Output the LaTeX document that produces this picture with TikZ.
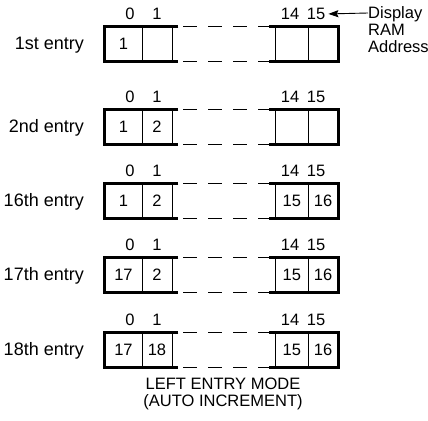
\documentclass[tikz,border=0pt]{standalone}
\usepackage{fontspec}
\setmainfont{Liberation Sans}
\usetikzlibrary{arrows.meta, positioning}
\tikzset{
  txt/.style={font=\fontsize{16.5}{17}\selectfont, inner sep=0pt, text height=11.5pt, text depth=0pt},
  cell/.style={txt, draw, line width=0.9pt, minimum height=34pt},
  lbl/.style={txt, font=\fontsize{18}{17}\selectfont, anchor=east},
  rim/.style={line width=2.2pt},
  gap/.style={line width=0.9pt, dash pattern=on 14pt off 11pt, dash phase=20pt},
  arr/.style={-{Stealth[length=10pt, width=7pt, inset=1.5pt]}, line width=0.9pt},
}
\begin{document}
\begin{tikzpicture}[x=1pt, y=-1pt]
    \useasboundingbox (0,0) rectangle (428,420);
    \foreach \r/\lab/\t/\a/\b/\c/\d in {1/1st entry/27/1/{}/{}/{}, 2/2nd entry/110/1/2/{}/{},
        3/16th entry/184/1/2/15/16, 4/17th entry/258/17/2/15/16, 5/18th entry/333/17/18/15/16} {
      \node[cell, minimum width=37pt] (a\r) at (123.5,\t+17) {\a};
      \node[cell, minimum width=30pt] (b\r) at (157,\t+17) {\b};
      \node[cell, minimum width=32.5pt] (c\r) at (291.75,\t+17) {\c};
      \node[cell, minimum width=30pt] (d\r) at (323,\t+17) {\d};
      \node[lbl] (e\r) at (84,\t+17) {\lab};
      \node[txt] (h\r-0) at (130,\t-13) {0};
      \node[txt] (h\r-1) at (157,\t-13) {1};
      \node[txt] (h\r-14) at (290,\t-13) {14};
      \node[txt] (h\r-15) at (316,\t-13) {15};
      \draw[rim] ([xshift=6pt]b\r.north east) -- (a\r.north west) -- (a\r.south west) -- ([xshift=6pt]b\r.south east);
      \draw[rim] ([xshift=-6pt]c\r.north west) -- (d\r.north east) -- (d\r.south east) -- ([xshift=-6pt]c\r.south west);
      \draw[gap] ([xshift=6pt]b\r.north east) -- ([xshift=-6pt]c\r.north west);
      \draw[gap] ([xshift=6pt]b\r.south east) -- ([xshift=-6pt]c\r.south west);
    }
    \node[txt, anchor=west] (disp) at (368,13) {Display};
    \node[txt, anchor=west] (ram) at (368,30) {RAM};
    \node[txt, anchor=west] (adr) at (368,47) {Address};
    \draw[arr, shorten >=3pt] (disp.west) -- (h1-15.east);
    \node[font=\fontsize{16.5}{17}\selectfont, inner sep=0pt, align=center, anchor=north] (title) at (223,378)
      {LEFT ENTRY MODE\\(AUTO INCREMENT)};
\end{tikzpicture}
\end{document}
